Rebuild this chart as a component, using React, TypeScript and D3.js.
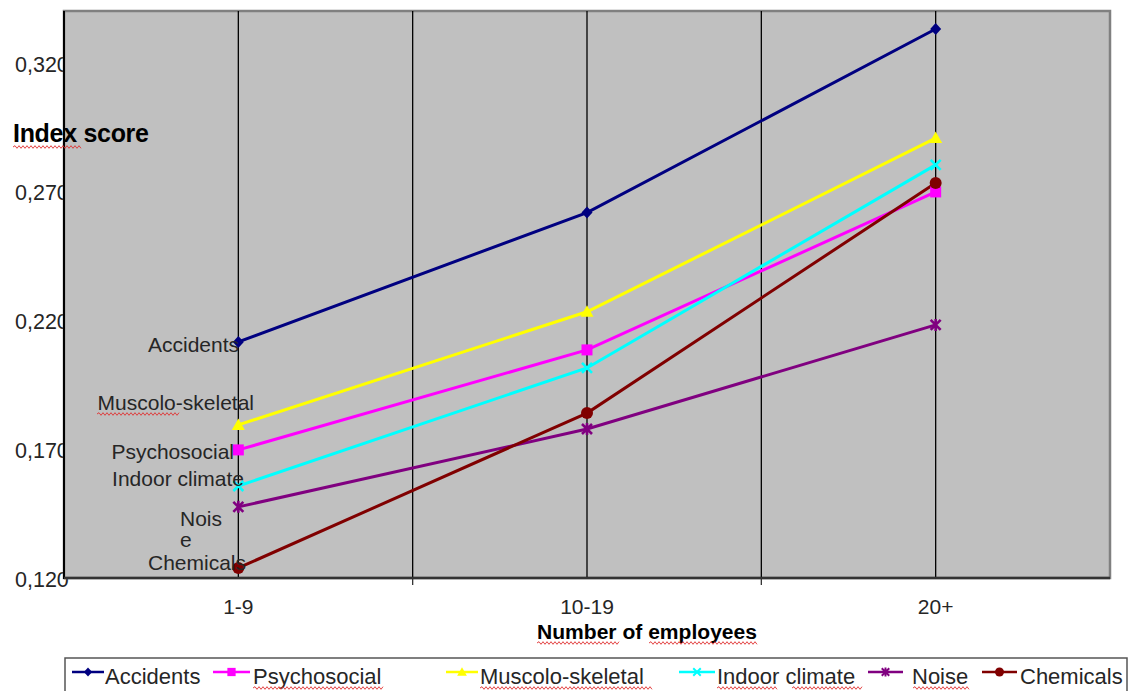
import React from "react";
import * as d3 from "d3";

// ---------- data ----------
const categories = ["1-9", "10-19", "20+"];
const seriesNames = ["Accidents", "Psychosocial", "Muscolo-skeletal", "Indoor climate", "Noise", "Chemicals"];
const accidents = [0.2116, 0.2618, 0.333];
const psychosocial = [0.1697, 0.2085, 0.2698];
const muscoloSkeletal = [0.1794, 0.2233, 0.2907];
const indoorClimate = [0.1557, 0.2015, 0.2803];
const noise = [0.1476, 0.1778, 0.2182];
const chemicals = [0.1239, 0.184, 0.2733];
const yTicks = [0.12, 0.17, 0.22, 0.27, 0.32];
const yDomain = [0.12, 0.34];

// ---------- styles / layout ----------
const seriesValues = [accidents, psychosocial, muscoloSkeletal, indoorClimate, noise, chemicals];
const colors = ["#000080", "#ff00ff", "#ffff00", "#00ffff", "#800080", "#800000"];
const markerKinds = ["diamond", "square", "triangle", "x", "star", "circle"];
const W = 1131, H = 691;
const plot = { left: 64, right: 1110, top: 11, bottom: 578 };
const FONT = "'Liberation Sans', Arial, sans-serif";
const textColor = "#262626";

// annotation labels near the first category (end x, baseline y)
const annLayout = [
  { lines: ["Accidents"], x: 239, y: 352, anchor: "end", gap: 0 },
  { lines: ["Muscolo-skeletal"], x: 254, y: 410, anchor: "end", gap: 0 },
  { lines: ["Psychosocial"], x: 234, y: 459, anchor: "end", gap: 0 },
  { lines: ["Indoor climate"], x: 244, y: 486, anchor: "end", gap: 0 },
  { lines: ["Nois", "e"], x: 180, y: 526, anchor: "start", gap: 21 },
  { lines: ["Chemicals"], x: 246, y: 570, anchor: "end", gap: 0 },
];
// legend item geometry: line start, line end, text start
const legendLayout = [
  [72, 104, 105],
  [213, 250, 253],
  [446, 478, 480],
  [679, 715, 717],
  [868, 903, 912],
  [982, 1017, 1020],
];

function Marker({ kind, color, x, y, s = 1 }: { kind: string; color: string; x: number; y: number; s?: number }) {
  const t = `translate(${x},${y}) scale(${s})`;
  switch (kind) {
    case "diamond":
      return <path transform={t} d="M0,-6L5.5,0L0,6L-5.5,0Z" fill={color} />;
    case "square":
      return <rect transform={t} x={-5.5} y={-5.5} width={11} height={11} fill={color} />;
    case "triangle":
      return <path transform={t} d="M0,-6.5L6.5,5L-6.5,5Z" fill={color} />;
    case "x":
      return <path transform={t} d="M-5,-5L5,5M-5,5L5,-5" stroke={color} strokeWidth={2.6} fill="none" />;
    case "star":
      return <path transform={t} d="M-5,-5L5,5M-5,5L5,-5M0,-6L0,6" stroke={color} strokeWidth={2.6} fill="none" />;
    default:
      return <circle transform={t} r={6} fill={color} />;
  }
}

function squiggle(x1: number, x2: number, y: number) {
  let d = `M${x1},${y}`;
  let up = true;
  for (let x = x1 + 2; x <= x2; x += 2) {
    d += `L${x},${y + (up ? -1.3 : 1.3)}`;
    up = !up;
  }
  return d;
}

export default function App() {
  const x = d3.scaleBand<string>().domain(categories).range([plot.left, plot.right]).padding(0);
  const cx = (c: string) => (x(c) as number) + x.bandwidth() / 2;
  const y = d3.scaleLinear().domain(yDomain).range([plot.bottom, plot.top]);
  const line = d3
    .line<number>()
    .x((_, i) => cx(categories[i]))
    .y((d) => y(d));
  const fmt = (v: number) => d3.format(".3f")(v).replace(".", ",");

  const gridXs: number[] = [];
  categories.forEach((c, i) => {
    if (i > 0) gridXs.push(x(c) as number);
    gridXs.push(cx(c));
  });
  const boundaryXs = categories.slice(1).map((c) => x(c) as number);

  const squiggles = [
    squiggle(13, 82, 147),
    squiggle(97, 180, 414),
    squiggle(537, 620, 643),
    squiggle(649, 757, 643),
    squiggle(253, 383, 688),
    squiggle(480, 652, 688),
    squiggle(717, 777, 688),
    squiggle(792, 862, 688),
    squiggle(913, 970, 688),
  ];

  return (
    <svg
      width={W}
      height={H}
      style={{ position: "absolute", left: 0, top: 0, background: "#fff" }}
      fontFamily={FONT}
    >
      <rect x={0} y={0} width={W} height={H} fill="#ffffff" />
      {/* y tick labels (partly hidden behind the plot area) */}
      {yTicks.map((t) => (
        <text key={t} x={15} y={y(t) + 9} fontSize={21.5} fill={textColor}>
          {fmt(t)}
        </text>
      ))}
      {/* plot area */}
      <rect
        x={plot.left}
        y={plot.top}
        width={plot.right - plot.left}
        height={plot.bottom - plot.top}
        fill="#c0c0c0"
        stroke="#808080"
        strokeWidth={2.5}
      />
      {gridXs.map((gx) => (
        <line key={gx} x1={gx} x2={gx} y1={plot.top} y2={plot.bottom} stroke="#000" strokeWidth={1.3} />
      ))}
      {/* axes */}
      <line x1={plot.left} x2={plot.left} y1={plot.top} y2={plot.bottom + 1} stroke="#000" strokeWidth={2} />
      <line x1={plot.left} x2={plot.right} y1={plot.bottom} y2={plot.bottom} stroke="#333" strokeWidth={2.5} />
      {boundaryXs.map((bx) => (
        <line key={"t" + bx} x1={bx} x2={bx} y1={plot.bottom} y2={plot.bottom + 7} stroke="#333" strokeWidth={1.3} />
      ))}
      {/* "Index score" */}
      <text x={13} y={142} fontSize={25} fontWeight="bold" fill="#000" letterSpacing={-0.3}>
        Index score
      </text>
      {/* series */}
      {seriesValues.map((vals, si) => (
        <path key={"l" + si} d={line(vals) as string} fill="none" stroke={colors[si]} strokeWidth={3} />
      ))}
      {seriesValues.map((vals, si) =>
        vals.map((v, i) => (
          <Marker key={`m${si}-${i}`} kind={markerKinds[si]} color={colors[si]} x={cx(categories[i])} y={y(v)} />
        ))
      )}
      {/* annotations */}
      {annLayout.map((a, i) =>
        a.lines.map((ln, j) => (
          <text
            key={`a${i}-${j}`}
            x={a.x}
            y={a.y + j * a.gap}
            fontSize={21}
            fill={textColor}
            textAnchor={a.anchor as any}
          >
            {ln}
          </text>
        ))
      )}
      {/* x tick labels */}
      {categories.map((c) => (
        <text key={c} x={cx(c)} y={614} fontSize={21} textAnchor="middle" fill={textColor}>
          {c}
        </text>
      ))}
      <text x={647} y={639} fontSize={20} fontWeight="bold" textAnchor="middle" fill="#000" textLength={220} lengthAdjust="spacingAndGlyphs">
        Number of employees
      </text>
      {/* legend */}
      <rect x={65} y={658} width={1062} height={40} fill="#fff" stroke="#555" strokeWidth={1.5} />
      {seriesNames.map((n, i) => {
        const [l1, l2, tx] = legendLayout[i];
        return (
          <g key={"lg" + i}>
            <line x1={l1} x2={l2} y1={672} y2={672} stroke={colors[i]} strokeWidth={2.5} />
            <Marker kind={markerKinds[i]} color={colors[i]} x={(l1 + l2) / 2} y={672} s={0.75} />
            <text x={tx} y={684} fontSize={22} fill={textColor}>
              {n}
            </text>
          </g>
        );
      })}
      {squiggles.map((d, i) => (
        <path key={"sq" + i} d={d} fill="none" stroke="#e03030" strokeWidth={0.9} />
      ))}
    </svg>
  );
}
